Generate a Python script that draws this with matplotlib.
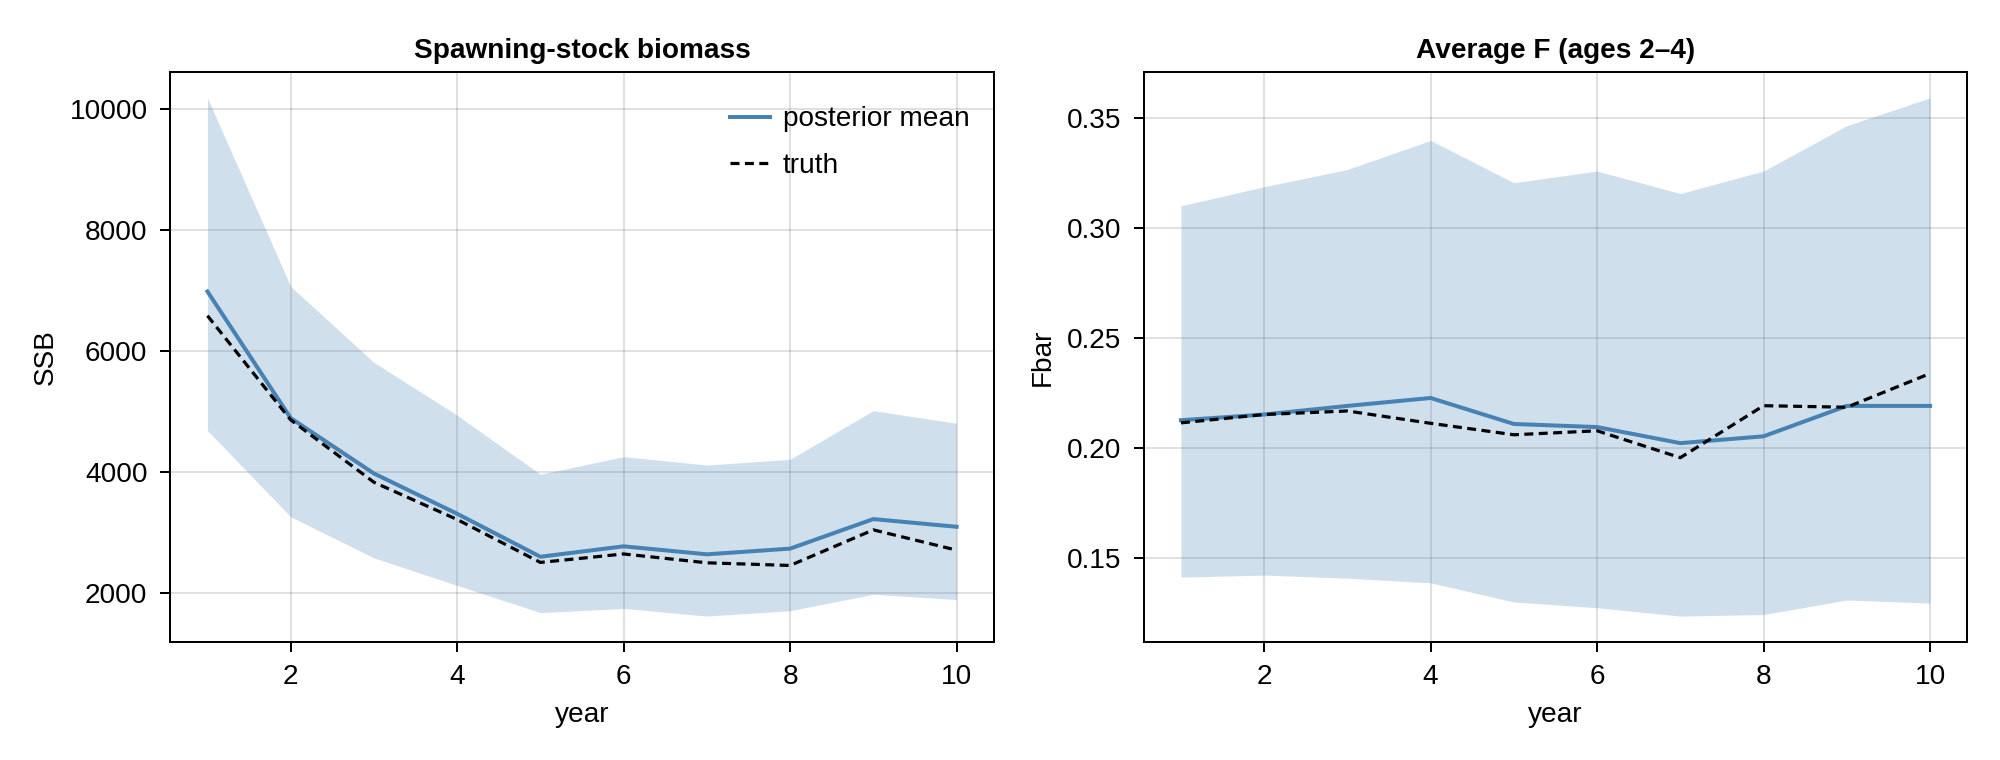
import matplotlib
matplotlib.use("Agg")
import matplotlib.pyplot as plt
import numpy as np

years = [1, 2, 3, 4, 5, 6, 7, 8, 9, 10]

ssb_mean = [6980, 4890, 3975, 3310, 2600, 2772, 2640, 2734, 3222, 3095]
ssb_truth = [6580, 4860, 3830, 3215, 2506, 2646, 2500, 2456, 3044, 2709]
ssb_upper = [10177, 7063, 5810, 4937, 3962, 4253, 4114, 4209, 5013, 4804]
ssb_lower = [4684, 3260, 2582, 2127, 1677, 1747, 1620, 1709, 1981, 1893]

fbar_mean = [0.2127, 0.2153, 0.2192, 0.2228, 0.2110, 0.2096, 0.2023, 0.2054, 0.2192, 0.2192]
fbar_truth = [0.2115, 0.2153, 0.2169, 0.2113, 0.2061, 0.2079, 0.1957, 0.2193, 0.2186, 0.2339]
fbar_upper = [0.3100, 0.3187, 0.3265, 0.3397, 0.3205, 0.3258, 0.3156, 0.3258, 0.3464, 0.3590]
fbar_lower = [0.1415, 0.1424, 0.1410, 0.1389, 0.1302, 0.1276, 0.1238, 0.1245, 0.1311, 0.1297]

titles = ["Spawning-stock biomass", "Average F (ages 2\u20134)"]
ylabels = ["SSB", "Fbar"]
xlabel = "year"
xticks = [2, 4, 6, 8, 10]
ssb_yticks = [2000, 4000, 6000, 8000, 10000]
fbar_yticks = [0.15, 0.20, 0.25, 0.30, 0.35]
legend_labels = ["posterior mean", "truth"]

plt.rcParams['font.family'] = ['Liberation Sans', 'DejaVu Sans']
FS = 20.16
PX = 0.72  # points per pixel at dpi 100

W, H = 2000, 760
fig = plt.figure(figsize=(W / 100, H / 100), dpi=100)
ax1 = fig.add_axes([170 / W, (H - 642) / H, 824 / W, 570 / H])
ax2 = fig.add_axes([1143.5 / W, (H - 642) / H, 824 / W, 570 / H])

blue = "#4682B4"
LW = 4 * PX


def style(ax, title, ylabel, yticks, fmt):
    ax.set_axisbelow(True)
    ax.set_xticks(xticks)
    ax.set_yticks(yticks)
    ax.set_yticklabels([fmt(v) for v in yticks])
    ax.grid(True, color="black", alpha=0.12, linewidth=2 * PX)
    for s in ax.spines.values():
        s.set_linewidth(2 * PX)
        s.set_color("black")
    ax.tick_params(direction="out", length=10 * PX, width=2 * PX,
                   labelsize=FS, pad=9, color="black")
    ax.set_xlabel(xlabel, fontsize=FS, labelpad=8)
    ax.set_ylabel(ylabel, fontsize=FS, labelpad=7.5)
    ax.set_title(title, fontsize=FS, fontweight="bold", pad=10)


def draw(ax, mean, truth, lo, hi):
    ax.fill_between(years, lo, hi, color=blue, alpha=0.25, linewidth=0)
    l1, = ax.plot(years, mean, color=blue, linewidth=LW, label=legend_labels[0])
    l2, = ax.plot(years, truth, color="black", linewidth=LW * 0.8,
                  linestyle=(0, (2.8, 1.7)), label=legend_labels[1])
    allv = list(lo) + list(hi) + list(mean) + list(truth)
    vmin, vmax = min(allv), max(allv)
    m = 0.05 * (vmax - vmin)
    ax.set_ylim(vmin - m, vmax + m)
    xm = 0.05 * (max(years) - min(years))
    ax.set_xlim(min(years) - xm, max(years) + xm)
    return l1, l2


l1, l2 = draw(ax1, ssb_mean, ssb_truth, ssb_lower, ssb_upper)
draw(ax2, fbar_mean, fbar_truth, fbar_lower, fbar_upper)

style(ax1, titles[0], ylabels[0], ssb_yticks, lambda v: f"{v:d}")
style(ax2, titles[1], ylabels[1], fbar_yticks, lambda v: f"{v:.2f}")

ax1.legend(handles=[l1, l2], loc="upper right", frameon=False, fontsize=FS,
           handlelength=1.45, handletextpad=0.45, labelspacing=0.74,
           borderaxespad=0.3, bbox_to_anchor=(0.994, 0.974))

fig.savefig("out.png", dpi=100)
